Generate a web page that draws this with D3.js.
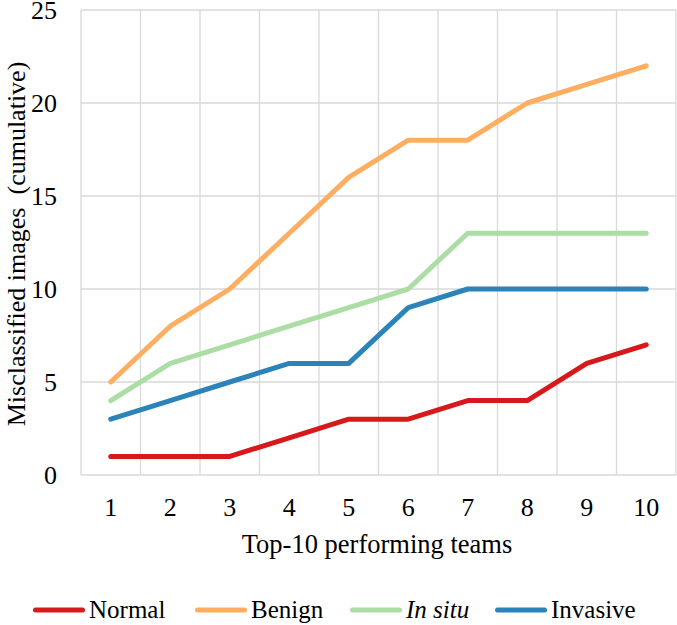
<!DOCTYPE html>
<html>
<head>
<meta charset="utf-8">
<script src="https://cdn.jsdelivr.net/npm/d3@7"></script>
<style>
  body { margin: 0; background: #fff; }
  svg { display: block; }
  svg text { font-family: "Liberation Serif", "Times New Roman", Times, "DejaVu Serif", serif; fill: #000; }
</style>
</head>
<body>
<svg id="chart" width="677" height="625"></svg>
<script>
const teams = [1, 2, 3, 4, 5, 6, 7, 8, 9, 10];
const normal = [1, 1, 1, 2, 3, 3, 4, 4, 6, 7];
const benign = [5, 8, 10, 13, 16, 18, 18, 20, 21, 22];
const inSitu = [4, 6, 7, 8, 9, 10, 13, 13, 13, 13];
const invasive = [3, 4, 5, 6, 6, 9, 10, 10, 10, 10];
const yTicks = [0, 5, 10, 15, 20, 25];

const series = [
  { name: "Normal", values: normal, color: "#d7191c", italic: false },
  { name: "Benign", values: benign, color: "#fdae61", italic: false },
  { name: "In situ", values: inSitu, color: "#abdda4", italic: true },
  { name: "Invasive", values: invasive, color: "#2b83ba", italic: false }
];

const svg = d3.select("#chart");
const plotLeft = 81, plotRight = 676, plotTop = 10, plotBottom = 475;

const x = d3.scaleBand().domain(teams).range([plotLeft, plotRight]);
const y = d3.scaleLinear().domain([0, 25]).range([plotBottom, plotTop]);

// grid
const grid = svg.append("g").attr("stroke", "#d9d9d9").attr("stroke-width", 1.3);
grid.selectAll("line.h")
  .data(yTicks)
  .join("line")
  .attr("class", "h")
  .attr("x1", plotLeft).attr("x2", plotRight)
  .attr("y1", d => y(d)).attr("y2", d => y(d));
grid.selectAll("line.v")
  .data(teams.concat(["end"]))
  .join("line")
  .attr("class", "v")
  .attr("x1", (d, i) => i < teams.length ? x(d) : plotRight)
  .attr("x2", (d, i) => i < teams.length ? x(d) : plotRight)
  .attr("y1", plotTop).attr("y2", plotBottom);

// y tick labels
svg.append("g")
  .selectAll("text")
  .data(yTicks)
  .join("text")
  .attr("x", 57)
  .attr("y", d => y(d) + 9)
  .attr("text-anchor", "end")
  .attr("font-size", 26)
  .text(d => d);

// x tick labels
svg.append("g")
  .selectAll("text")
  .data(teams)
  .join("text")
  .attr("x", d => x(d) + x.bandwidth() / 2)
  .attr("y", 516)
  .attr("text-anchor", "middle")
  .attr("font-size", 26)
  .text(d => d);

// axis titles
svg.append("text")
  .attr("x", 377)
  .attr("y", 553)
  .attr("text-anchor", "middle")
  .attr("font-size", 26.5)
  .text("Top-10 performing teams");

svg.append("text")
  .attr("transform", "translate(25, 244) rotate(-90)")
  .attr("text-anchor", "middle")
  .attr("font-size", 26)
  .style("white-space", "pre")
  .text("Misclassified images  (cumulative)");

// lines
const line = d3.line()
  .x((d, i) => x(teams[i]) + x.bandwidth() / 2)
  .y(d => y(d));

svg.append("g")
  .selectAll("path")
  .data(series)
  .join("path")
  .attr("d", d => line(d.values))
  .attr("fill", "none")
  .attr("stroke", d => d.color)
  .attr("stroke-width", 5)
  .attr("stroke-linecap", "round")
  .attr("stroke-linejoin", "round");

// legend
const legendX = [33, 195, 350, 495];
const lg = svg.append("g")
  .selectAll("g")
  .data(series)
  .join("g")
  .attr("transform", (d, i) => `translate(${legendX[i]}, 610)`);
lg.append("line")
  .attr("x1", 2.5).attr("x2", 49.5)
  .attr("stroke", d => d.color)
  .attr("stroke-width", 5)
  .attr("stroke-linecap", "round");
lg.append("text")
  .attr("x", 56)
  .attr("y", 8)
  .attr("font-size", 25)
  .attr("font-style", d => d.italic ? "italic" : "normal")
  .text(d => d.name);
</script>
</body>
</html>
